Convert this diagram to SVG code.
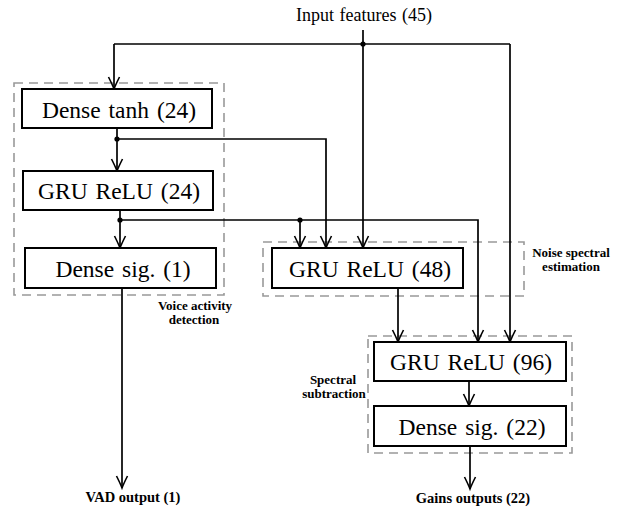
<svg xmlns="http://www.w3.org/2000/svg" width="627" height="508" viewBox="0 0 627 508">
<defs>
<marker id="arr" markerUnits="userSpaceOnUse" markerWidth="16" markerHeight="14" viewBox="-13 -7 16 14" refX="0" refY="0" orient="auto">
<path d="M-12,-5.5 Q-4,-1.5 0,0 Q-4,1.5 -12,5.5" fill="none" stroke="#000" stroke-width="1.6"/>
</marker>
<style>
.box{fill:#fff;stroke:#000;stroke-width:2}
.grp{fill:none;stroke:#999;stroke-width:1.6;stroke-dasharray:9,6}
text{font-family:'Liberation Serif','Times New Roman',Times,serif;fill:#000;text-anchor:middle}
.lbl{font-size:23.5px;word-spacing:2px}
.cap{font-weight:bold;font-size:13px}
.out{font-weight:bold;font-size:14.5px}
.in{font-size:18px;word-spacing:1px}
.c{fill:none;stroke:#000;stroke-width:1.7}
.ca{fill:none;stroke:#000;stroke-width:1.7;marker-end:url(#arr)}
</style>
</defs>
<g id="groups">
<rect id="vad-group" class="grp" x="14" y="83" width="210" height="212"/>
<rect id="noise-group" class="grp" x="263" y="242" width="261" height="54"/>
<rect id="spectral-group" class="grp" x="368" y="336" width="204" height="117"/>
</g>
<g id="connectors">
<path class="c" d="M114,44 H510"/>
<path class="ca" d="M363,30 V248"/>
<path class="ca" d="M114,44 V89"/>
<path class="ca" d="M510,44 V342"/>
<path class="ca" d="M117,128 V171"/>
<path class="ca" d="M117,139 H326 V248"/>
<path class="ca" d="M120,210 V248"/>
<path class="ca" d="M120,220 H478 V342"/>
<path class="ca" d="M300,220 V248"/>
<path class="ca" d="M122,288 V488"/>
<path class="ca" d="M398,288 V342"/>
<path class="ca" d="M469,381 V406"/>
<path class="ca" d="M470,446 V489"/>
<circle cx="363" cy="44" r="2.6"/>
<circle cx="117" cy="139" r="2.6"/>
<circle cx="120" cy="220" r="2.6"/>
<circle cx="300" cy="220" r="2.6"/>
</g>
<g id="input"><text class="in" x="364" y="21">Input features (45)</text></g>
<g id="dense-tanh"><rect class="box" x="22" y="89" width="190" height="39"/><text class="lbl" x="119" y="118">Dense tanh (24)</text></g>
<g id="gru24"><rect class="box" x="23" y="171" width="190" height="39"/><text class="lbl" x="119" y="199">GRU ReLU (24)</text></g>
<g id="dense-sig1"><rect class="box" x="25" y="248" width="191" height="40"/><text class="lbl" x="123" y="277">Dense sig. (1)</text></g>
<g id="gru48"><rect class="box" x="272" y="248" width="191" height="40"/><text class="lbl" x="370" y="277">GRU ReLU (48)</text></g>
<g id="gru96"><rect class="box" x="374" y="342" width="192" height="39"/><text class="lbl" x="471" y="370">GRU ReLU (96)</text></g>
<g id="dense-sig22"><rect class="box" x="374" y="406" width="192" height="40"/><text class="lbl" x="472" y="435">Dense sig. (22)</text></g>
<g id="labels">
<text class="cap" x="195" y="310">Voice activity</text>
<text class="cap" x="194" y="324">detection</text>
<text class="cap" x="571" y="257">Noise spectral</text>
<text class="cap" x="571" y="271">estimation</text>
<text class="cap" x="333" y="384">Spectral</text>
<text class="cap" x="334" y="398">subtraction</text>
<text class="out" x="133" y="502">VAD output (1)</text>
<text class="out" x="473" y="503">Gains outputs (22)</text>
</g>
</svg>
